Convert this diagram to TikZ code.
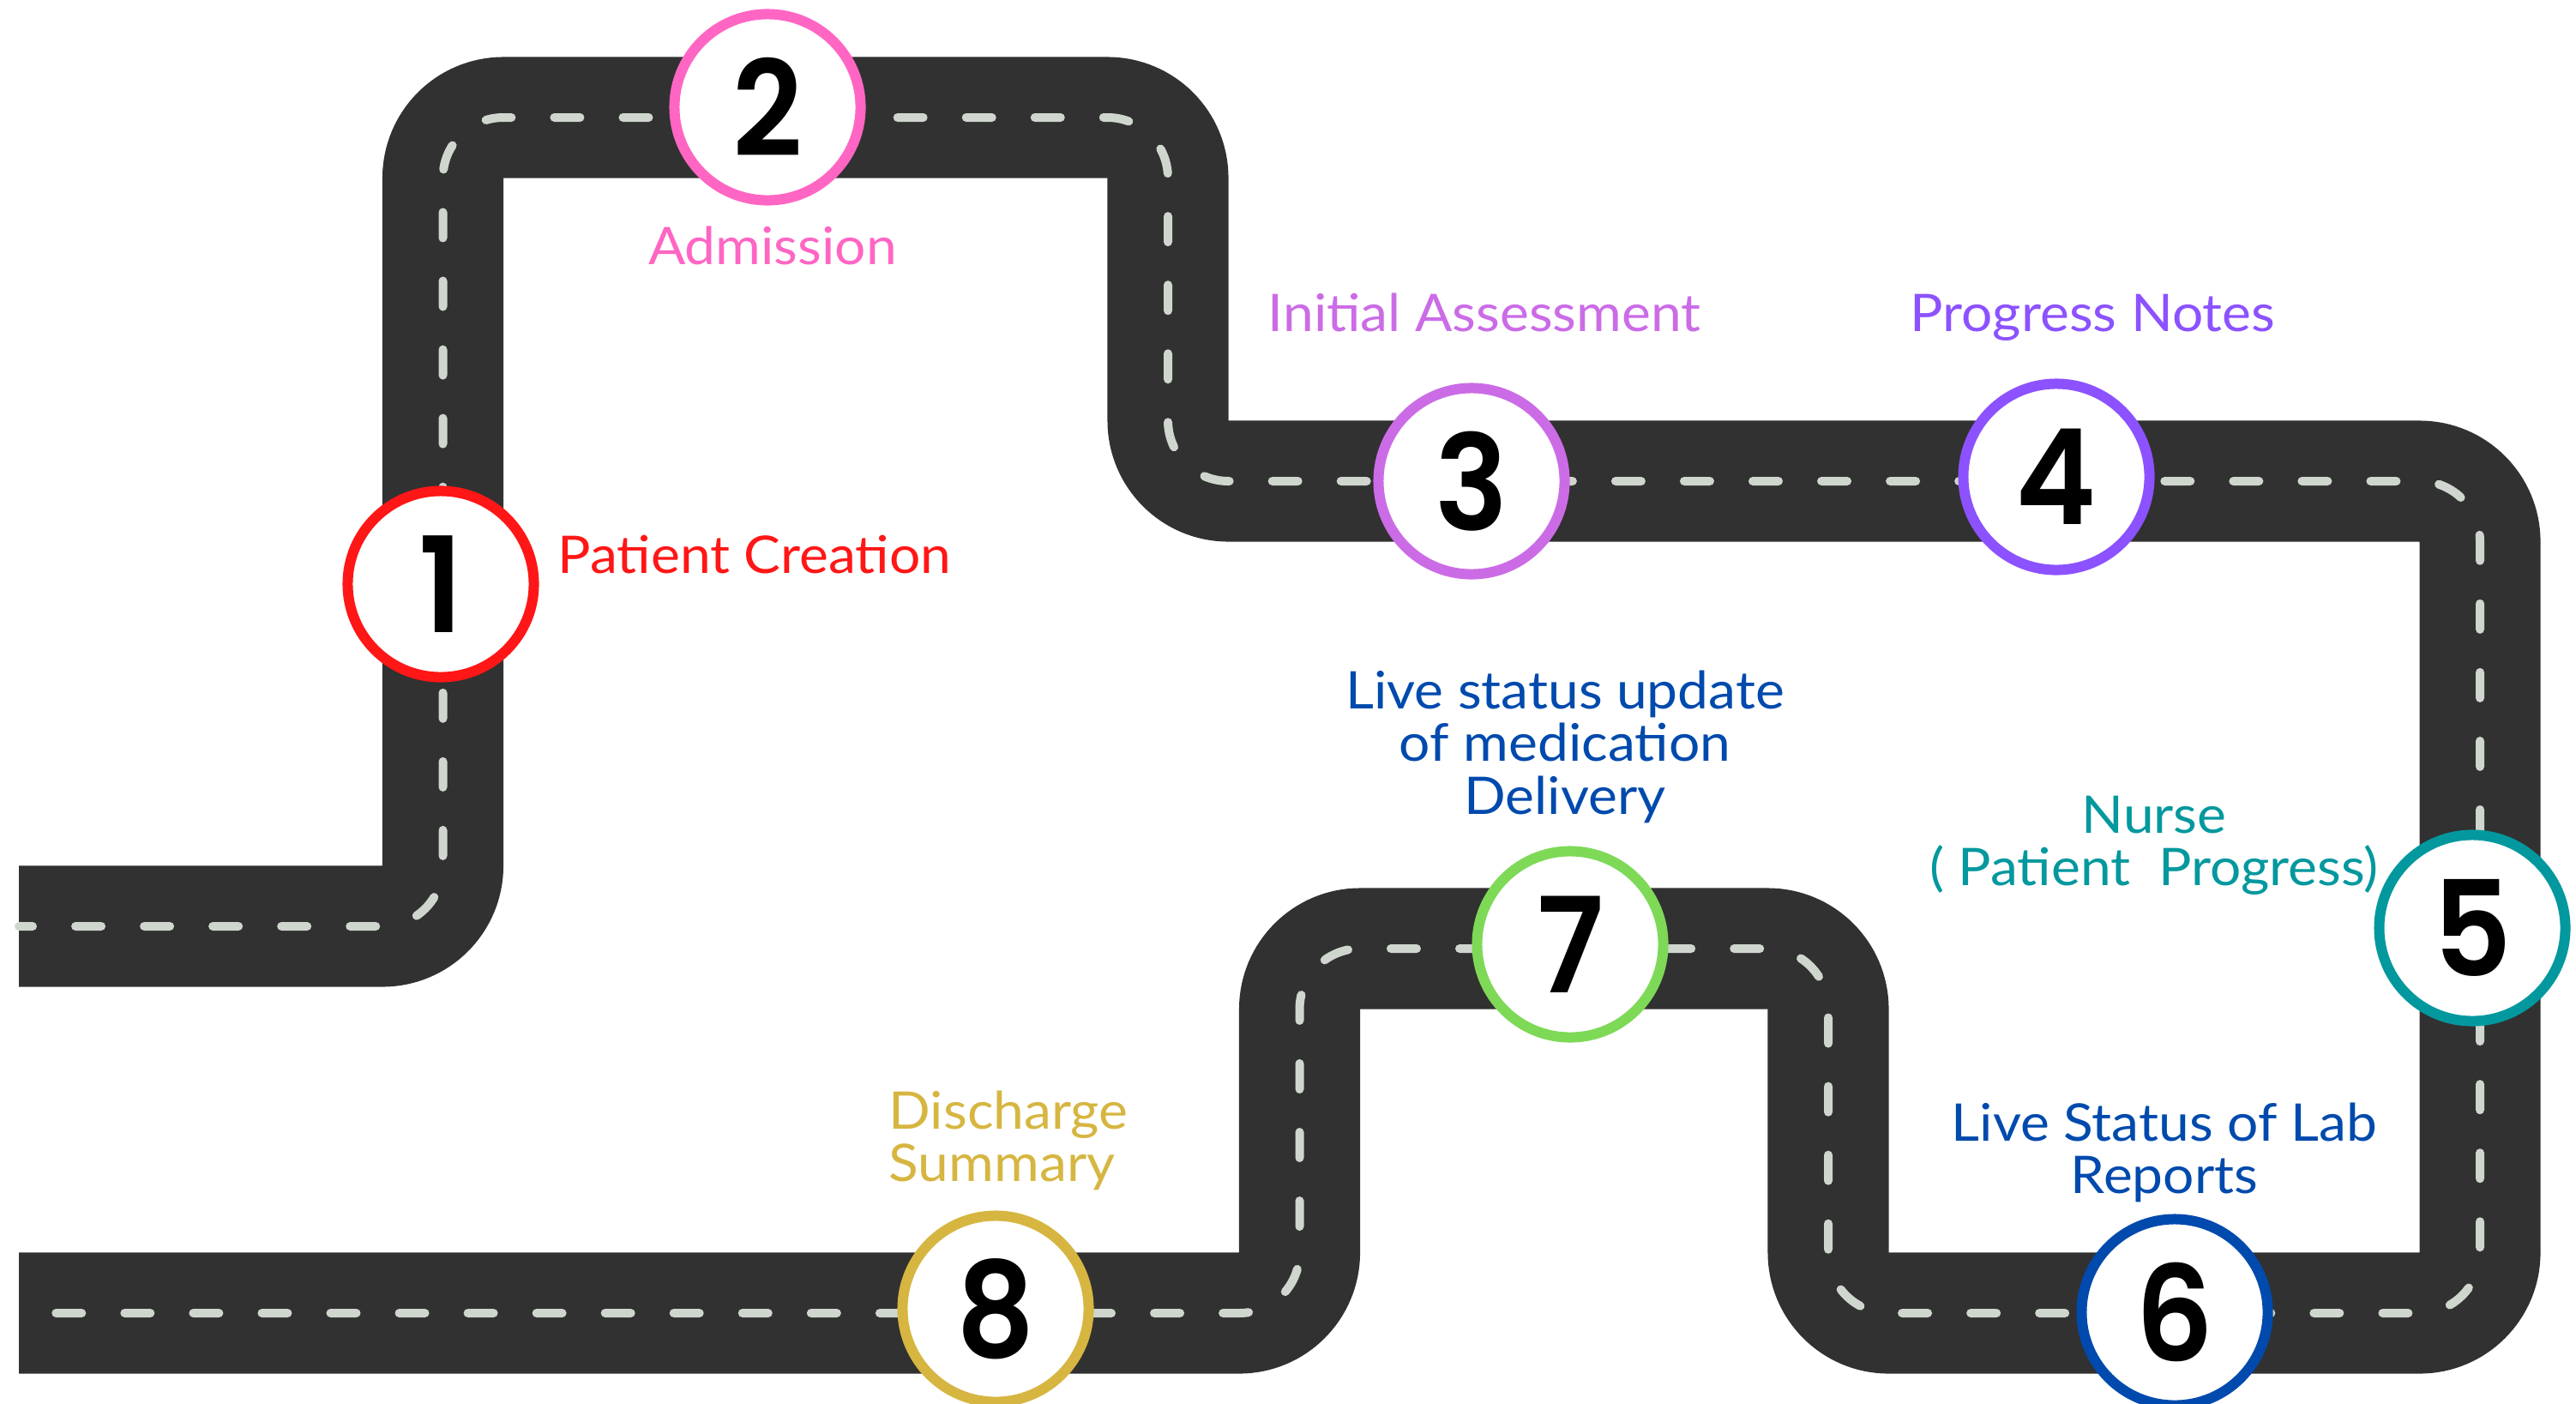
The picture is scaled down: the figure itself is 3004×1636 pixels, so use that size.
\documentclass[tikz,border=0pt]{standalone}
\usepackage{fontspec}
\setmainfont{Lato}
\newfontfamily\labelfont[FakeStretch=1.06]{Lato}
\newfontfamily\digitfont[UprightFont=* SemiBold, FakeStretch=0.92]{Poppins}

\definecolor{roadgray}{HTML}{313131}
\definecolor{lanegray}{HTML}{CFD6CE}
\definecolor{cRed}{HTML}{FF1616}
\definecolor{cPink}{HTML}{FF66C4}
\definecolor{cPurple}{HTML}{CB6CE6}
\definecolor{cViolet}{HTML}{8C52FF}
\definecolor{cTeal}{HTML}{03989E}
\definecolor{cBlue}{HTML}{004AAD}
\definecolor{cGreen}{HTML}{7ED957}
\definecolor{cGold}{HTML}{D6B641}

\tikzset{
  road/.style={draw=roadgray, line width=1.41cm, rounded corners=0.705cm},
  lane/.style={draw=lanegray, line width=0.1cm, line cap=round,
    dash pattern=on 0.3cm off 0.5cm, dash phase=0.14cm, rounded corners=0.705cm},
  stopcircle/.style={circle, draw=#1, fill=white, line width=0.12cm,
    minimum size=2.17cm, inner sep=0pt,
    font=\digitfont\fontsize{44}{44}\selectfont},
  steplabel/.style={text=#1, inner sep=0pt, align=center,
    font=\labelfont\fontsize{17.2}{17.5}\selectfont},
}

\begin{document}
\begin{tikzpicture}[x=0.01cm, y=-0.01cm]
\useasboundingbox (0,0) rectangle (3004,1636);
\clip (0,0) rectangle (3004,1636);

% road centre line corners
\coordinate (r0) at (22,1080);
\coordinate (r1) at (516.5,1080);
\coordinate (r2) at (516.5,137);
\coordinate (r3) at (1362,137);
\coordinate (r4) at (1362,561);
\coordinate (r5) at (2892,561);
\coordinate (r6) at (2892,1531);
\coordinate (r7) at (2132,1531);
\coordinate (r8) at (2132,1106);
\coordinate (r9) at (1515.5,1106);
\coordinate (r10) at (1515.5,1531);
\coordinate (r11) at (22,1531);

\draw[road] (r0) -- (r1) -- (r2) -- (r3) -- (r4) -- (r5) -- (r6) -- (r7)
  -- (r8) -- (r9) -- (r10) -- (r11);
\draw[lane] (r0) -- (r1) -- (r2) -- (r3) -- (r4) -- (r5) -- (r6) -- (r7)
  -- (r8) -- (r9) -- (r10) -- (r11);

% stops
\node[stopcircle=cRed]    (s1) at (514,681)   {1};
\node[stopcircle=cPink]   (s2) at (895,125)   {2};
\node[stopcircle=cPurple] (s3) at (1716,561)  {3};
\node[stopcircle=cViolet] (s4) at (2398,556)  {4};
\node[stopcircle=cTeal]   (s5) at (2883,1082) {5};
\node[stopcircle=cBlue]   (s6) at (2536,1530) {6};
\node[stopcircle=cGreen]  (s7) at (1831,1101) {7};
\node[stopcircle=cGold]   (s8) at (1161,1526) {8};

% captions
\node[steplabel=cRed, anchor=base west]    (t1) at (650,668)  {Patient Creation};
\node[steplabel=cPink, anchor=base]        (t2) at (901,308)  {Admission};
\node[steplabel=cPurple, anchor=base west] (t3) at (1478,386) {Initial Assessment};
\node[steplabel=cViolet, anchor=base west] (t4) at (2227,386) {Progress Notes};
\node[steplabel=cTeal, anchor=north]  (t5) at (2512,927)
  {Nurse\\( Patient\ \ Progress)};
\node[steplabel=cBlue, anchor=north]  (t6) at (2524,1285)
  {Live Status of Lab\\Reports};
\node[steplabel=cBlue, anchor=north]  (t7) at (1825,781)
  {Live status update\\of medication\\Delivery};
\node[steplabel=cGold, anchor=north west, align=left] (t8) at (1036,1271)
  {Discharge\\Summary};
\end{tikzpicture}
\end{document}
